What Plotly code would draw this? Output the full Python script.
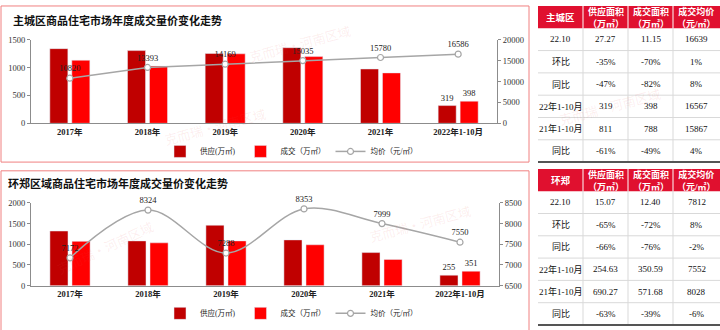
import plotly.graph_objects as go

W, H = 720, 330

# ---------------- data ----------------
years = ["2017年", "2018年", "2019年", "2020年", "2021年", "2022年1-10月"]

main_supply = [1343, 1308, 1256, 1360, 977, 319]
main_deal = [1134, 1029, 1250, 1200, 907, 398]
main_price = [10820, 13393, 14169, 15035, 15780, 16586]

ring_supply = [1320, 1082, 1459, 1106, 800, 255]
ring_deal = [1070, 1035, 1082, 988, 635, 351]
ring_price = [7172, 8324, 7288, 8353, 7999, 7550]

table_cols = ["供应面积<br>（万㎡）", "成交面积<br>（万㎡）", "成交均价<br>（元/㎡）"]
row_labels = ["22.10", "环比", "同比", "22年1-10月", "21年1-10月", "同比"]
main_tab_supply = ["27.27", "-35%", "-47%", "319", "811", "-61%"]
main_tab_deal = ["11.15", "-70%", "-82%", "398", "788", "-49%"]
main_tab_price = ["16639", "1%", "8%", "16567", "15867", "4%"]
ring_tab_supply = ["15.07", "-65%", "-66%", "254.63", "690.27", "-63%"]
ring_tab_deal = ["12.40", "-72%", "-76%", "350.59", "571.68", "-39%"]
ring_tab_price = ["7812", "8%", "-2%", "7552", "8028", "-6%"]

# ---------------- styles ----------------
SERIF = "Liberation Serif, Noto Sans CJK SC, serif"
C_SUP = "#C00000"
C_DEAL = "#FF0000"
C_LINE = "#A6A6A6"
C_AX = "#8C8C8C"
C_HEAD = "#E0102F"
C_GRID = "#D9D9D9"


def px(x):
    return x / W


def py(y):
    return 1 - y / H


def last_only(vals):
    return ["" if i < len(vals) - 1 else str(v) for i, v in enumerate(vals)]


fig = go.Figure()

lbl_font = dict(size=8.5, family=SERIF, color="#222")


def add_chart(sup, deal, price, xa, ya, ya2, leg, spline):
    fig.add_trace(go.Bar(x=years, y=sup, name="供应(万㎡)", marker_color=C_SUP,
                         text=last_only(sup), textposition="outside", textfont=lbl_font,
                         cliponaxis=False, xaxis=xa, yaxis=ya, legend=leg))
    fig.add_trace(go.Bar(x=years, y=deal, name="成交（万㎡）", marker_color=C_DEAL,
                         text=last_only(deal), textposition="outside", textfont=lbl_font,
                         cliponaxis=False, xaxis=xa, yaxis=ya, legend=leg))
    line = dict(color=C_LINE, width=1.5)
    if spline:
        line.update(shape="spline", smoothing=1.0)
    fig.add_trace(go.Scatter(x=years, y=price, name="均价（元/㎡）", mode="lines+markers+text",
                             line=line,
                             marker=dict(symbol="circle", size=6, color="white",
                                         line=dict(color=C_LINE, width=1.2)),
                             text=[str(v) for v in price], textposition="top center",
                             textfont=lbl_font, cliponaxis=False,
                             xaxis=xa, yaxis=ya2, legend=leg))


add_chart(main_supply, main_deal, main_price, "x", "y", "y2", "legend", False)
add_chart(ring_supply, ring_deal, ring_price, "x2", "y3", "y4", "legend2", True)

# ---------------- tables (shapes + annotations) ----------------
col_edges = [538, 583, 628, 673, 720]


def add_table(corner, c1, c2, c3, y_top, head_h, row_h):
    fig.add_shape(type="rect", xref="paper", yref="paper", x0=px(col_edges[0]), x1=px(col_edges[-1]),
                  y0=py(y_top + head_h), y1=py(y_top), fillcolor=C_HEAD, line=dict(width=0))
    heads = [corner] + table_cols
    for j, htxt in enumerate(heads):
        xc = (col_edges[j] + col_edges[j + 1]) / 2
        fig.add_annotation(text="<b>%s</b>" % htxt, xref="paper", yref="paper", x=px(xc),
                           y=py(y_top + head_h / 2), xanchor="center", yanchor="middle",
                           showarrow=False, align="center",
                           font=dict(size=9.5 if j == 0 else 9, family=SERIF, color="white"))
        if 0 < j:
            fig.add_shape(type="line", xref="paper", yref="paper", x0=px(col_edges[j]), x1=px(col_edges[j]),
                          y0=py(y_top + head_h), y1=py(y_top), line=dict(color="white", width=1))
    cols = [row_labels, c1, c2, c3]
    body_top = y_top + head_h
    n = len(row_labels)
    for i in range(n):
        yc = body_top + row_h * (i + 0.5)
        for j in range(4):
            xc = (col_edges[j] + col_edges[j + 1]) / 2
            fig.add_annotation(text=cols[j][i], xref="paper", yref="paper", x=px(xc), y=py(yc),
                               xanchor="center", yanchor="middle", showarrow=False,
                               font=dict(size=9, family=SERIF, color="#111"))
        if i > 0:
            yl = body_top + row_h * i
            fig.add_shape(type="line", xref="paper", yref="paper", x0=px(col_edges[0]), x1=px(col_edges[-1]),
                          y0=py(yl), y1=py(yl), line=dict(color=C_GRID, width=1))
    body_bot = body_top + row_h * n
    for j in range(1, 4):
        fig.add_shape(type="line", xref="paper", yref="paper", x0=px(col_edges[j]), x1=px(col_edges[j]),
                      y0=py(body_bot), y1=py(body_top), line=dict(color=C_GRID, width=1))
    fig.add_shape(type="line", xref="paper", yref="paper", x0=px(col_edges[0]), x1=px(col_edges[-1]),
                  y0=py(body_bot), y1=py(body_bot), line=dict(color="#555", width=2))


add_table("主城区", main_tab_supply, main_tab_deal, main_tab_price, 1, 23, 23)
add_table("环郑", ring_tab_supply, ring_tab_deal, ring_tab_price, 169, 23, 23)

tickfont = dict(size=8.5, family=SERIF, color="#333")
xtickfont = dict(size=8.5, family=SERIF, color="#222", weight="bold")
axis_common = dict(showgrid=False, zeroline=False, showline=True, linecolor=C_AX, linewidth=1,
                   ticks="outside", ticklen=3, tickcolor=C_AX, tickfont=tickfont, tickformat="d")

leg_common = dict(orientation="h", xanchor="left", yanchor="middle",
                  font=dict(size=7.5, family=SERIF, color="#222"), itemwidth=30,
                  bgcolor="rgba(0,0,0,0)", tracegroupgap=0)

fig.update_layout(
    width=W, height=H, autosize=False,
    margin=dict(l=0, r=0, t=0, b=0),
    paper_bgcolor="white", plot_bgcolor="white",
    barmode="group", bargap=0.434, bargroupgap=0.18,
    xaxis=dict(domain=[px(31), px(497)], anchor="y", showgrid=False, showline=True,
               linecolor=C_AX, ticks="", tickfont=xtickfont, fixedrange=True),
    yaxis=dict(domain=[py(122), py(36)], anchor="x", range=[0, 1500], dtick=500, **axis_common),
    yaxis2=dict(overlaying="y", side="right", anchor="x", range=[0, 20000], dtick=5000, **axis_common),
    xaxis2=dict(domain=[px(31), px(499)], anchor="y3", showgrid=False, showline=True,
                linecolor=C_AX, ticks="", tickfont=xtickfont, fixedrange=True),
    yaxis3=dict(domain=[py(289.5), py(204)], anchor="x2", range=[0, 2000], dtick=500, **axis_common),
    yaxis4=dict(overlaying="y3", side="right", anchor="x2", range=[6500, 8500], dtick=500, **axis_common),
    legend=dict(x=px(160), y=py(151), **leg_common),
    legend2=dict(x=px(160), y=py(318), **leg_common),
    showlegend=True,
)

# titles
fig.add_annotation(text="<b>主城区商品住宅市场年度成交量价变化走势</b>", xref="paper", yref="paper",
                   x=px(11), y=py(15), xanchor="left", yanchor="middle", showarrow=False,
                   font=dict(size=11, family="Noto Sans CJK SC", color="#111"))
fig.add_annotation(text="<b>环郑区域商品住宅市场年度成交量价变化走势</b>", xref="paper", yref="paper",
                   x=px(6), y=py(184), xanchor="left", yanchor="middle", showarrow=False,
                   font=dict(size=11, family="Noto Sans CJK SC", color="#111"))

# faint watermarks
for (wx, wy, ang) in [(300, 40, -15), (215, 125, -15), (105, 250, -25), (610, 105, -15), (420, 225, -15)]:
    fig.add_annotation(text="克而瑞·河南区域", xref="paper", yref="paper", x=px(wx), y=py(wy),
                       xanchor="center", yanchor="middle", showarrow=False, textangle=ang,
                       font=dict(size=13, family="Noto Sans CJK SC", color="rgba(230,80,80,0.10)"))

# panel frames
fig.add_shape(type="rect", xref="paper", yref="paper", x0=px(1), x1=px(529), y0=py(162), y1=py(1),
              line=dict(color="#F08080", width=1), layer="below")
fig.add_shape(type="rect", xref="paper", yref="paper", x0=px(1), x1=px(529), y0=py(345), y1=py(171),
              line=dict(color="#F08080", width=1), layer="below")

fig.write_html("out.html")
